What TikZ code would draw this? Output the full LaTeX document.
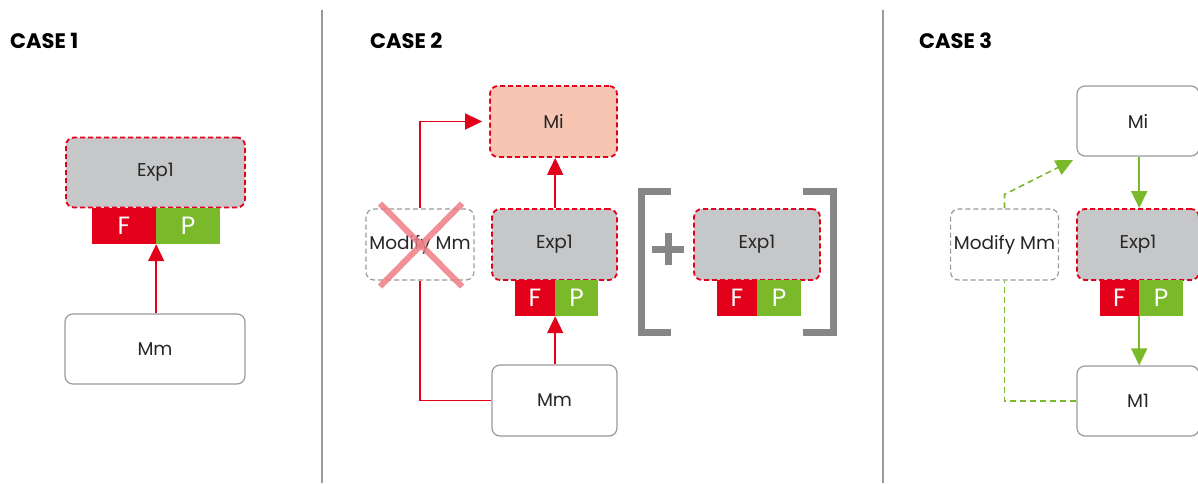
\documentclass[tikz,border=0pt]{standalone}
\usepackage{fontspec}
\setmainfont{Poppins}
\usepackage{tikz}
\usetikzlibrary{arrows.meta}

\definecolor{expred}{HTML}{E2001A}
\definecolor{pgreen}{HTML}{7AB929}
\definecolor{expgray}{HTML}{C6C7C9}
\definecolor{boxgray}{HTML}{9A9A9A}
\definecolor{migray}{HTML}{F7C5B1}
\definecolor{brgray}{HTML}{868686}
\definecolor{crossred}{HTML}{EE7C84}

\tikzset{
  plainbox/.style={rectangle, rounded corners=8pt, draw=boxgray, line width=1.2pt,
    fill=white, minimum height=70, text=black!85, font=\fontsize{18.5}{18.5}\selectfont},
  expbox/.style={plainbox, fill=expgray, draw=expred, line width=1.8pt,
    dash pattern=on 5pt off 3pt},
  mibox/.style={expbox, fill=migray},
  modbox/.style={plainbox, dash pattern=on 5pt off 3pt},
  fcell/.style={rectangle, fill=expred, text=white, minimum height=36, inner sep=0pt,
    font=\fontsize{25}{25}\selectfont},
  pcell/.style={fcell, fill=pgreen},
  redline/.style={draw=expred, line width=1.6pt},
  redarrow/.style={redline, -{Triangle[length=17pt,width=16pt]}},
  greenline/.style={draw=pgreen, line width=1.6pt},
  greenarrow/.style={greenline, -{Triangle[length=17pt,width=16pt]}},
  casetitle/.style={anchor=base west, inner sep=0pt, font=\fontsize{21}{21}\selectfont\bfseries},
  sep/.style={draw=boxgray, line width=1.5pt}
}

\begin{document}
\begin{tikzpicture}[x=1pt,y=-1pt]
\useasboundingbox (0,0) rectangle (1198,483);

% separators
\draw[sep] (322,10) -- (322,483);
\draw[sep] (883,10) -- (883,483);

% case 1
\node[casetitle] (t1) at (10,48) {CASE 1};
\node[expbox, minimum width=179] (exp1) at (155.5,172.5) {Exp1};
\node[fcell, minimum width=64] (f1) at (124,226) {F};
\node[pcell, minimum width=64] (p1) at (188,226) {P};
\node[plainbox, minimum width=180] (mm1) at (155,349) {Mm};
\draw[redarrow] (mm1.north -| f1.east) -- (f1.south east);

% case 2
\node[casetitle] (t2) at (370,48) {CASE 2};
\node[mibox, minimum width=127, minimum height=71] (mi2) at (553.5,121.5) {Mi};
\node[expbox, minimum width=125, minimum height=71] (exp2) at (554.5,244.5) {Exp1};
\node[fcell, minimum width=40] (f2) at (535,298) {F};
\node[pcell, minimum width=43] (p2) at (576.5,298) {P};
\node[plainbox, minimum width=125, minimum height=71] (mm2) at (554.5,400.5) {Mm};
\node[modbox, minimum width=106, minimum height=71, fill=none] (mod2) at (420,244.5) {Modify Mm};
\draw[redarrow] (mm2.north -| f2.east) -- (f2.south east);
\draw[redarrow] (exp2.north -| f2.east) -- (mi2.south -| f2.east);
\draw[redline] (mm2.west) -| (mod2.south);
\draw[redarrow, shorten >=7pt] (mod2.north) |- (mi2.west);
\draw[crossred, opacity=0.85, line width=6pt] ([shift={(-40,-41)}]mod2.center) -- ([shift={(42,42)}]mod2.center);
\draw[crossred, opacity=0.85, line width=6pt] ([shift={(-40,42)}]mod2.center) -- ([shift={(42,-41)}]mod2.center);
% bracket with a second Exp1
\node[expbox, minimum width=126, minimum height=71] (exp2b) at (757,244.5) {Exp1};
\node[fcell, minimum width=40] (f2b) at (737,298) {F};
\node[pcell, minimum width=44] (p2b) at (779,298) {P};
\draw[brgray, line width=7pt] (671,191.5) -- (641.5,191.5) -- (641.5,332.5) -- (671,332.5);
\draw[brgray, line width=7pt] (803,191.5) -- (833.5,191.5) -- (833.5,332.5) -- (803,332.5);
\draw[brgray, line width=7pt] (652,249) -- (684,249);
\draw[brgray, line width=7pt] (668,233) -- (668,265);

% case 3
\node[casetitle] (t3) at (919,48) {CASE 3};
\node[plainbox, minimum width=122] (mi3) at (1138,121) {Mi};
\node[expbox, minimum width=122, minimum height=71] (exp3) at (1138,244.5) {Exp1};
\node[fcell, minimum width=39] (f3) at (1119.5,298) {F};
\node[pcell, minimum width=44] (p3) at (1161,298) {P};
\node[plainbox, minimum width=122] (m13) at (1138,401) {M1};
\node[modbox, minimum width=105, minimum height=71] (mod3) at (1004.5,244.5) {Modify Mm};
\coordinate (tip3) at (1073,160);
\draw[greenarrow] (mi3.south -| f3.east) -- (exp3.north -| f3.east);
\draw[greenarrow] (f3.south east) -- (m13.north -| f3.east);
\draw[greenline, dash pattern=on 6pt off 4pt] (m13.west) -| (mod3.south);
\draw[greenarrow, dash pattern=on 6pt off 4pt] (mod3.north) -- ++(0,-14) -- (tip3);
\end{tikzpicture}
\end{document}
